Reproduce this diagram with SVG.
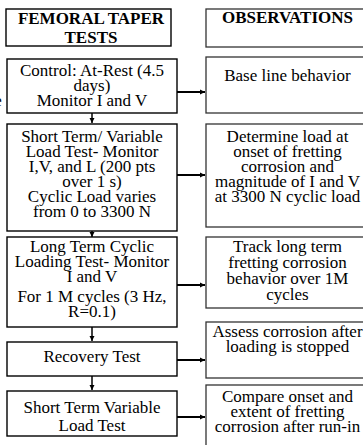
<svg xmlns="http://www.w3.org/2000/svg" width="363" height="445" viewBox="0 0 363 445">
<defs>
<marker id="ah" markerWidth="6" markerHeight="6" refX="5" refY="3" orient="auto" markerUnits="userSpaceOnUse">
<path d="M0,0.5 L5,3 L0,5.5 Z" fill="#000"/>
</marker>
<style>
.bl{fill:#fff;stroke:#000;stroke-width:1.4}
.br{fill:#fff;stroke:#333;stroke-width:1.3}
text{font-size:17px;fill:#000;text-anchor:middle}
.h{font-weight:bold;font-size:17px}
.c{stroke:#000;stroke-width:1.5;fill:none}
.ch{stroke:#000;stroke-width:2;fill:none}
</style>
</defs>
<rect width="363" height="445" fill="#fff"/>
<g font-family="Liberation Serif, Times New Roman, Times, serif">
<text x="-2" y="106">e</text>
<g id="n-femoral">
<rect class="bl" x="6" y="9" width="165" height="37"/>
<text class="h" x="91" y="24">FEMORAL TAPER</text>
<text class="h" x="91" y="43">TESTS</text>
</g>
<g id="n-observations">
<rect class="br" x="206" y="9" width="163" height="38"/>
<text class="h" x="287.5" y="23">OBSERVATIONS</text>
</g>
<g id="n-control">
<rect class="bl" x="7" y="59" width="170" height="54"/>
<text x="92" y="76">Control: At-Rest (4.5</text>
<text x="92" y="91">days)</text>
<text x="92" y="106">Monitor I and V</text>
</g>
<g id="n-baseline">
<rect class="br" x="206" y="57" width="163" height="56"/>
<text x="287.5" y="81">Base line behavior</text>
</g>
<g id="n-shortterm">
<rect class="bl" x="7" y="124" width="170" height="107"/>
<text x="92" y="142">Short Term/ Variable</text>
<text x="92" y="157">Load Test- Monitor</text>
<text x="92" y="172">I,V, and L (200 pts</text>
<text x="92" y="187">over 1 s)</text>
<text x="92" y="202">Cyclic Load  varies</text>
<text x="92" y="217">from 0 to 3300 N</text>
</g>
<g id="n-determine">
<rect class="br" x="206" y="124" width="163" height="103"/>
<text x="287.5" y="142">Determine load at</text>
<text x="287.5" y="157">onset of fretting</text>
<text x="287.5" y="172">corrosion and</text>
<text x="287.5" y="187">magnitude of I and V</text>
<text x="287.5" y="202">at 3300 N cyclic load</text>
</g>
<g id="n-longterm">
<rect class="bl" x="7" y="237" width="170" height="90"/>
<text x="92" y="252">Long Term Cyclic</text>
<text x="92" y="267">Loading Test- Monitor</text>
<text x="92" y="282">I and V</text>
<text x="92" y="302">For 1 M cycles (3 Hz,</text>
<text x="92" y="317">R=0.1)</text>
</g>
<g id="n-track">
<rect class="br" x="206" y="237" width="163" height="71"/>
<text x="287.5" y="252">Track long term</text>
<text x="287.5" y="268">fretting corrosion</text>
<text x="287.5" y="284">behavior over 1M</text>
<text x="287.5" y="300">cycles</text>
</g>
<g id="n-recovery">
<rect class="bl" x="7" y="342" width="170" height="34"/>
<text x="92" y="362">Recovery Test</text>
</g>
<g id="n-assess">
<rect class="br" x="206" y="322" width="163" height="56"/>
<text x="287.5" y="337">Assess corrosion after</text>
<text x="287.5" y="352">loading is stopped</text>
</g>
<g id="n-stv">
<rect class="bl" x="7" y="391" width="170" height="45"/>
<text x="92" y="413">Short Term Variable</text>
<text x="92" y="431">Load Test</text>
</g>
<g id="n-compare">
<rect class="br" x="206" y="385" width="163" height="70"/>
<text x="287.5" y="402">Compare onset and</text>
<text x="287.5" y="417">extent of fretting</text>
<text x="287.5" y="432">corrosion after run-in</text>
</g>
</g>
<g id="connectors">
<line class="c" x1="92" y1="113" x2="92" y2="123" marker-end="url(#ah)"/>
<line class="c" x1="92" y1="231" x2="92" y2="237" marker-end="url(#ah)"/>
<line class="c" x1="92" y1="327" x2="92" y2="341" marker-end="url(#ah)"/>
<line class="c" x1="92" y1="376" x2="92" y2="390" marker-end="url(#ah)"/>
<line class="ch" x1="177" y1="92" x2="205" y2="92" marker-end="url(#ah)"/>
<line class="ch" x1="177" y1="175" x2="205" y2="175" marker-end="url(#ah)"/>
<line class="ch" x1="177" y1="285" x2="205" y2="285" marker-end="url(#ah)"/>
<line class="ch" x1="177" y1="360" x2="205" y2="360" marker-end="url(#ah)"/>
<line class="ch" x1="177" y1="417" x2="205" y2="417" marker-end="url(#ah)"/>
</g>
</svg>
